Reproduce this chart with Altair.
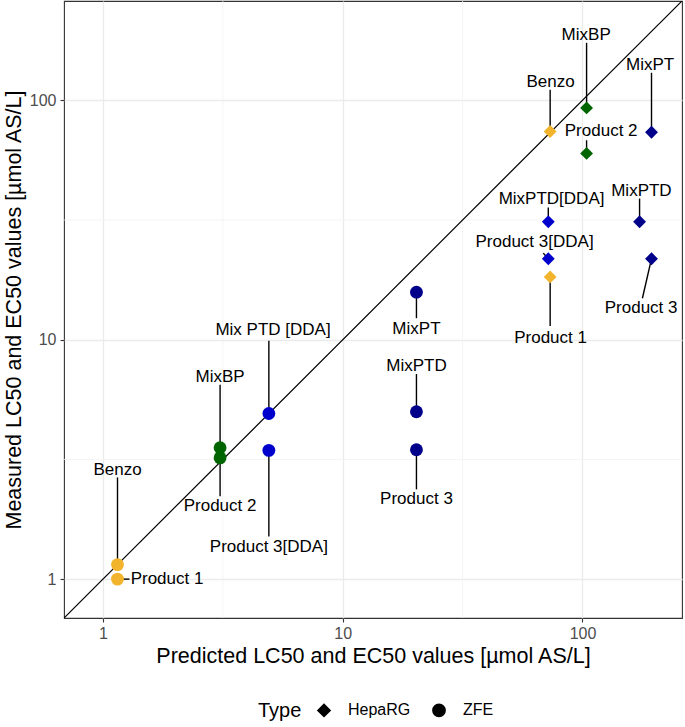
import altair as alt
import numpy as np
import pandas as pd

# Measured vs. predicted LC50 / EC50 values for each test item
names = ["Benzo", "Product 1", "MixBP", "Product 2", "Mix PTD [DDA]",
         "Product 3[DDA]", "MixPT", "MixPTD", "Product 3",
         "Benzo", "MixBP", "Product 2", "MixPT", "MixPTD[DDA]",
         "Product 3[DDA]", "Product 1", "MixPTD", "Product 3"]
types = ["ZFE"] * 9 + ["HepaRG"] * 9
groups = ["Benzo", "Benzo", "MixBP", "MixBP", "PTD-DDA", "PTD-DDA", "PT", "PT", "PT",
          "Benzo", "MixBP", "MixBP", "PT", "PTD-DDA", "PTD-DDA", "Benzo", "PT", "PT"]
predicted = [1.15, 1.15, 3.08, 3.08, 4.92, 4.92, 20.3, 20.3, 20.3,
             73.3, 104, 104, 194, 72, 72, 73.3, 173, 194]
measured = [1.15, 1.0, 3.54, 3.21, 4.92, 3.45, 15.8, 5.0, 3.47,
            74.1, 93, 60, 73.6, 31.1, 21.8, 18.3, 31.1, 21.8]

# Repelled label placement (data units) and the end of each leader segment
label_x = [1.15, 1.85, 3.08, 3.08, 5.12, 4.92, 20.3, 20.3, 20.3,
           73.6, 103.6, 119.6, 191.4, 74.3, 63.1, 73.6, 176.1, 175.6]
label_y = [2.85, 1.0, 6.97, 2.02, 11.0, 1.363, 11.1, 7.79, 2.17,
           119.6, 187.8, 74.3, 140.8, 38.6, 25.5, 10.2, 42.0, 13.55]
seg_x = [1.15, 1.29, 3.08, 3.08, 4.92, 4.92, 20.3, 20.3, 20.3,
         73.3, 104, 104, 194, 72, 68.6, 73.3, 173, 177.8]
seg_y = [2.66, 1.0, 6.49, 2.22, 9.9, 1.506, 12.3, 7.19, 2.37,
         110.8, 173.9, 68.1, 130.4, 35.7, 23.0, 11.4, 38.9, 14.9]

group_names = ["Benzo", "MixBP", "PTD-DDA", "PT"]
group_colors = ["#F2B42C", "#006400", "#0000CD", "#00008B"]

axis_domain = [0.688, 260]
major_ticks = [1, 10, 100]
minor_grid = [10 ** (k + 0.5) for k in range(-1, 3)]

df = pd.DataFrame({
    "name": names, "Type": types, "group": groups,
    "pred": predicted, "meas": measured,
    "lx": label_x, "ly": label_y, "sx": seg_x, "sy": seg_y,
})
diag = pd.DataFrame({"v": axis_domain})
grid = pd.DataFrame({"g": [g for g in minor_grid if axis_domain[0] < g < axis_domain[1]]})

FONT = "Liberation Sans"
xscale = alt.Scale(type="log", domain=axis_domain, nice=False)
yscale = alt.Scale(type="log", domain=axis_domain, nice=False)

x_axis = alt.Axis(title="Predicted LC50 and EC50 values [µmol AS/L]", values=major_ticks,
                  format="~g", labelPadding=3, titlePadding=4)
y_axis = alt.Axis(title="Measured LC50 and EC50 values [µmol AS/L]", values=major_ticks,
                  format="~g", labelPadding=4, titlePadding=4)

minor_v = alt.Chart(grid).mark_rule(color="#F1F1F1", strokeWidth=0.8).encode(
    x=alt.X("g:Q", scale=xscale, axis=x_axis))
minor_h = alt.Chart(grid).mark_rule(color="#F1F1F1", strokeWidth=0.8).encode(
    y=alt.Y("g:Q", scale=yscale, axis=y_axis))

identity = alt.Chart(diag).mark_line(color="black", strokeWidth=1.2, clip=True).encode(
    x=alt.X("v:Q", scale=xscale), y=alt.Y("v:Q", scale=yscale))

segments = alt.Chart(df).mark_rule(color="black", strokeWidth=1.4).encode(
    x=alt.X("pred:Q", scale=xscale), y=alt.Y("meas:Q", scale=yscale),
    x2="sx:Q", y2="sy:Q")

points = alt.Chart(df).mark_point(filled=True, opacity=1, size=165).encode(
    x=alt.X("pred:Q", scale=xscale),
    y=alt.Y("meas:Q", scale=yscale),
    color=alt.Color("group:N", scale=alt.Scale(domain=group_names, range=group_colors), legend=None),
    shape=alt.Shape("Type:N", scale=alt.Scale(domain=["HepaRG", "ZFE"], range=["diamond", "circle"]),
                    legend=alt.Legend(orient="none", legendX=194, legendY=701, direction="horizontal",
                                      titleOrient="left", title="Type", symbolFillColor="black",
                                      symbolStrokeColor="black", symbolSize=150, symbolOpacity=1,
                                      labelFontSize=16, titleFontSize=20, titleFont=FONT,
                                      labelFont=FONT, titleFontWeight="normal", titleColor="black",
                                      labelColor="black", columnPadding=18, titlePadding=14,
                                      labelOffset=16)),
)

labels = alt.Chart(df).mark_text(font=FONT, fontSize=17, color="black", baseline="middle").encode(
    x=alt.X("lx:Q", scale=xscale), y=alt.Y("ly:Q", scale=yscale), text="name:N")

chart = alt.layer(minor_v, minor_h, identity, segments, points, labels).properties(
    width=618, height=617,
    background="white",
    autosize=alt.AutoSizeParams(type="none"),
    padding={"left": 64, "top": 1, "right": 3, "bottom": 109},
).configure_view(
    stroke="#333333", strokeWidth=1.1
).configure_axis(
    grid=True, gridColor="#EBEBEB", gridWidth=1.3, domain=False,
    tickColor="#333333", tickSize=4, tickWidth=1.1,
    labelFont=FONT, labelFontSize=16, labelColor="#4D4D4D",
    titleFont=FONT, titleFontSize=21.5, titleFontWeight="normal", titleColor="black",
)

chart.save("out.html", embed_options={"renderer": "svg", "actions": False})
